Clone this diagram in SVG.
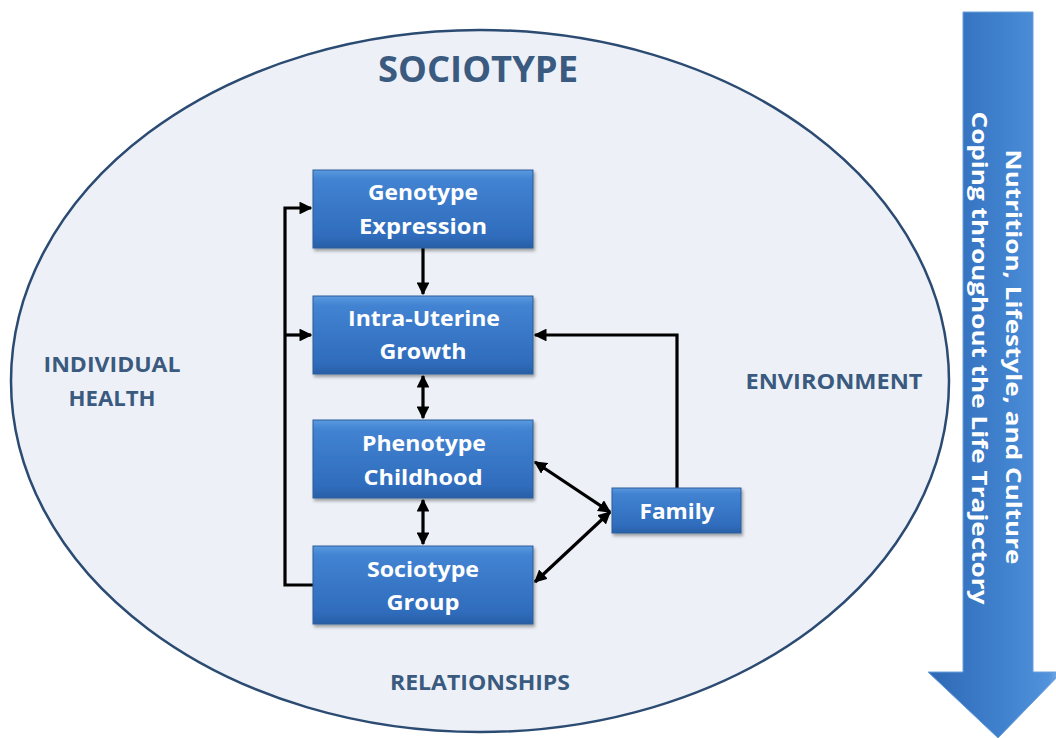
<svg xmlns="http://www.w3.org/2000/svg" width="1056" height="738" viewBox="0 0 1056 738">
<defs>
<linearGradient id="boxg" x1="0" y1="0" x2="0" y2="1">
<stop offset="0" stop-color="#5a9ae0"/>
<stop offset="0.12" stop-color="#4283d2"/>
<stop offset="0.85" stop-color="#2f6cbc"/>
<stop offset="1" stop-color="#2a5fa6"/>
</linearGradient>
<linearGradient id="arrg" x1="0" y1="0" x2="1" y2="0">
<stop offset="0" stop-color="#2f68b4"/>
<stop offset="0.5" stop-color="#3e7fcc"/>
<stop offset="0.9" stop-color="#5192dc"/>
<stop offset="1" stop-color="#7fb2ea"/>
</linearGradient>
<filter id="sh" x="-10%" y="-10%" width="125%" height="140%">
<feDropShadow dx="1.5" dy="2.5" stdDeviation="1.8" flood-color="#000" flood-opacity="0.35"/>
</filter>
<marker id="ah" viewBox="0 0 10 10" refX="9" refY="5" markerWidth="4" markerHeight="4" orient="auto-start-reverse" markerUnits="strokeWidth">
<path d="M0,0 L10,5 L0,10 z" fill="#000"/>
</marker>
<style>
.box{fill:url(#boxg);stroke:#2d5c9a;stroke-width:1;filter:url(#sh)}
.bt{font-family:"Open Sans","Liberation Sans",sans-serif;font-weight:bold;font-size:22px;fill:#fff;text-anchor:middle}
.lab{font-family:"Open Sans","Liberation Sans",sans-serif;font-weight:bold;font-size:22px;fill:#3a5a80;text-anchor:middle}
.ln{fill:none;stroke:#000;stroke-width:3.2}
.at{font-family:"Open Sans","Liberation Sans",sans-serif;font-weight:bold;font-size:21px;fill:#fff;text-anchor:middle}
</style>
</defs>
<rect width="1056" height="738" fill="#fff"/>
<g id="sociotype-ellipse">
<ellipse cx="480" cy="381" rx="469" ry="351" fill="#edf1f7" stroke="#2c4b73" stroke-width="2.5"/>
<text x="478" y="82" class="lab" style="font-size:36px" textLength="200" lengthAdjust="spacingAndGlyphs">SOCIOTYPE</text>
</g>
<g id="label-individual"><text x="112" y="372" class="lab" textLength="137" lengthAdjust="spacingAndGlyphs">INDIVIDUAL</text><text x="112" y="406" class="lab" textLength="87" lengthAdjust="spacingAndGlyphs">HEALTH</text></g>
<g id="label-environment"><text x="834" y="389" class="lab" textLength="177" lengthAdjust="spacingAndGlyphs">ENVIRONMENT</text></g>
<g id="label-relationships"><text x="480" y="690" class="lab" textLength="180" lengthAdjust="spacingAndGlyphs">RELATIONSHIPS</text></g>
<g id="life-arrow">
<path d="M963,12 L1033,12 L1033,672 L1062,672 L998,738 L928,672 L963,672 Z" fill="url(#arrg)" stroke="#6a9fdc" stroke-width="1"/>
<text class="at" transform="translate(1006,357) rotate(90)" textLength="415" lengthAdjust="spacingAndGlyphs">Nutrition, Lifestyle, and Culture</text>
<text class="at" transform="translate(972,358) rotate(90)" textLength="493" lengthAdjust="spacingAndGlyphs">Coping throughout the Life Trajectory</text>
</g>
<g id="connectors">
<path class="ln" d="M423,248 L423,294" marker-end="url(#ah)"/>
<path class="ln" d="M423,376 L423,418" marker-start="url(#ah)" marker-end="url(#ah)"/>
<path class="ln" d="M423,500 L423,544" marker-start="url(#ah)" marker-end="url(#ah)"/>
<path class="ln" d="M313,585 L285,585 L285,208 L311,208" marker-end="url(#ah)"/>
<path class="ln" d="M285,335 L311,335" marker-end="url(#ah)"/>
<path class="ln" d="M677,488 L677,335 L535,335" marker-end="url(#ah)"/>
<path class="ln" d="M610,512 L535,462" marker-start="url(#ah)" marker-end="url(#ah)"/>
<path class="ln" d="M610,512 L535,582" marker-start="url(#ah)" marker-end="url(#ah)"/>
</g>
<g id="node-genotype"><rect class="box" x="313" y="170" width="220" height="78"/><text class="bt" x="423" y="200" textLength="110" lengthAdjust="spacingAndGlyphs">Genotype</text><text class="bt" x="423" y="234" textLength="128" lengthAdjust="spacingAndGlyphs">Expression</text></g>
<g id="node-intrauterine"><rect class="box" x="313" y="296" width="220" height="78"/><text class="bt" x="424" y="326" textLength="152" lengthAdjust="spacingAndGlyphs">Intra-Uterine</text><text class="bt" x="423" y="359" textLength="87" lengthAdjust="spacingAndGlyphs">Growth</text></g>
<g id="node-phenotype"><rect class="box" x="313" y="420" width="220" height="78"/><text class="bt" x="424" y="451" textLength="124" lengthAdjust="spacingAndGlyphs">Phenotype</text><text class="bt" x="423" y="485" textLength="119" lengthAdjust="spacingAndGlyphs">Childhood</text></g>
<g id="node-sociotype-group"><rect class="box" x="313" y="546" width="220" height="78"/><text class="bt" x="423" y="577" textLength="112" lengthAdjust="spacingAndGlyphs">Sociotype</text><text class="bt" x="423" y="610" textLength="73" lengthAdjust="spacingAndGlyphs">Group</text></g>
<g id="node-family"><rect class="box" x="612" y="488" width="129" height="45"/><text class="bt" x="677" y="519" textLength="75" lengthAdjust="spacingAndGlyphs">Family</text></g>
</svg>
